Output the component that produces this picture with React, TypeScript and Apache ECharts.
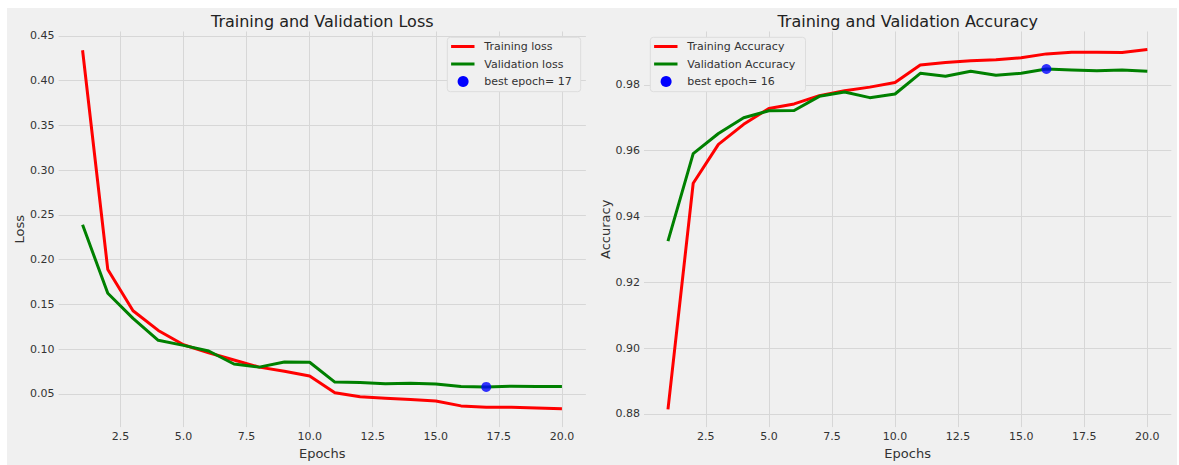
import React, { useEffect, useRef } from "react";
import * as echarts from "echarts";

const epochs = [1, 2, 3, 4, 5, 6, 7, 8, 9, 10, 11, 12, 13, 14, 15, 16, 17, 18, 19, 20];
const trainLoss = [0.434, 0.189, 0.143, 0.121, 0.105, 0.096, 0.088, 0.080, 0.0755, 0.070, 0.0514, 0.047, 0.0451, 0.0437, 0.0422, 0.0367, 0.0352, 0.0352, 0.0343, 0.0334];
const valLoss = [0.239, 0.1625, 0.1345, 0.110, 0.1043, 0.098, 0.0835, 0.080, 0.0858, 0.0855, 0.0633, 0.0628, 0.0615, 0.062, 0.0612, 0.0583, 0.0579, 0.0586, 0.0585, 0.0585];
const trainAcc = [0.8814, 0.9501, 0.9619, 0.968, 0.9728, 0.9742, 0.9767, 0.9782, 0.9793, 0.9807, 0.986, 0.9868, 0.9873, 0.9876, 0.9882, 0.9894, 0.9899, 0.9899, 0.9898, 0.9907];
const valAcc = [0.9325, 0.9591, 0.9652, 0.970, 0.9721, 0.9722, 0.9765, 0.9778, 0.9761, 0.9772, 0.9835, 0.9826, 0.9841, 0.9829, 0.9835, 0.9848, 0.9845, 0.9843, 0.9845, 0.9841];
const bestLossEpoch = 17;
const bestLoss = 0.0579;
const bestAccEpoch = 16;
const bestAcc = 0.9848;
const xTicks = [2.5, 5, 7.5, 10, 12.5, 15, 17.5, 20];
const lossTicks = [0.05, 0.1, 0.15, 0.2, 0.25, 0.3, 0.35, 0.4, 0.45];
const accTicks = [0.88, 0.9, 0.92, 0.94, 0.96, 0.98];
const lossLegend = ["Training loss", "Validation loss", "best epoch= " + bestLossEpoch];
const accLegend = ["Training Accuracy", "Validation Accuracy", "best epoch= " + bestAccEpoch];
const titles = ["Training and Validation Loss", "Training and Validation Accuracy"];

const FONT = "DejaVu Sans";
const GRID_COLOR = "#d7d7d7";
const TEXT_COLOR = "#333333";

export default function App() {
  const ref = useRef<HTMLDivElement>(null);
  useEffect(() => {
    if (!ref.current) return;
    const chart = echarts.init(ref.current, undefined, { renderer: "svg" });

    const G = [
      { left: 51.6, top: 23.5, width: 527.3, height: 399.5 },
      { left: 637, top: 23.5, width: 527.3, height: 399.5 },
    ];

    const xAxisBase = (gi: number) => ({
      type: "value",
      gridIndex: gi,
      min: 0.05,
      max: 20.95,
      name: "Epochs",
      nameLocation: "middle",
      nameGap: 18,
      nameTextStyle: { fontFamily: FONT, fontSize: 13, color: TEXT_COLOR },
      axisLine: { show: false },
      axisTick: { show: false, customValues: xTicks },
      axisLabel: {
        customValues: xTicks,
        margin: 4,
        fontFamily: FONT,
        fontSize: 11,
        color: TEXT_COLOR,
        formatter: (v: number) => v.toFixed(1),
      },
      splitLine: { show: true, lineStyle: { color: GRID_COLOR, width: 1 } },
    });

    const yAxisBase = (gi: number, min: number, max: number, ticks: number[], name: string) => ({
      type: "value",
      gridIndex: gi,
      min,
      max,
      name,
      nameLocation: "middle",
      nameGap: 32,
      nameTextStyle: { fontFamily: FONT, fontSize: 13, color: TEXT_COLOR },
      axisLine: { show: false },
      axisTick: { show: false, customValues: ticks },
      axisLabel: {
        customValues: ticks,
        margin: 4,
        fontFamily: FONT,
        fontSize: 11,
        color: TEXT_COLOR,
        formatter: (v: number) => v.toFixed(2),
      },
      splitLine: { show: true, lineStyle: { color: GRID_COLOR, width: 1 } },
    });

    const lineSeries = (name: string, data: number[], color: string, gi: number) => ({
      type: "line",
      name,
      xAxisIndex: gi,
      yAxisIndex: gi,
      data: epochs.map((e, i) => [e, data[i]]),
      showSymbol: false,
      symbol: "none",
      lineStyle: { color, width: 3, join: "round" },
      z: 3,
    });

    const legendGraphic = (
      boxX: number,
      boxW: number,
      labels: string[]
    ) => {
      const boxY = 29.3;
      const rows = [38.5, 56, 73.5];
      const colors = ["#ff0000", "#008000"];
      const els: any[] = [
        {
          type: "rect",
          z: 100,
          shape: { x: boxX, y: boxY, width: boxW, height: 54.4, r: 3 },
          style: { fill: "#f0f0f0", stroke: "#dddddd", lineWidth: 1 },
        },
      ];
      for (let i = 0; i < 2; i++) {
        els.push({
          type: "line",
          z: 101,
          shape: { x1: boxX + 3.8, y1: rows[i], x2: boxX + 27.2, y2: rows[i] },
          style: { stroke: colors[i], lineWidth: 3 },
        });
      }
      els.push({
        type: "circle",
        z: 101,
        shape: { cx: boxX + 15.8, cy: rows[2], r: 5.5 },
        style: { fill: "#0000ff" },
      });
      labels.forEach((t, i) => {
        els.push({
          type: "text",
          z: 101,
          x: boxX + 37,
          y: rows[i],
          style: {
            text: t,
            fontFamily: FONT,
            fontSize: 11,
            fill: TEXT_COLOR,
            align: "left",
            verticalAlign: "middle",
          },
        });
      });
      return els;
    };

    const titleGraphic = titles.map((t, i) => ({
      type: "text",
      z: 100,
      x: G[i].left + G[i].width / 2,
      y: 13,
      style: {
        text: t,
        fontFamily: FONT,
        fontSize: 16,
        fill: "#222222",
        align: "center",
        verticalAlign: "middle",
      },
    }));

    chart.setOption({
      animation: false,
      backgroundColor: "#f0f0f0",
      grid: G.map((g) => ({ ...g, containLabel: false })),
      xAxis: [xAxisBase(0), xAxisBase(1)],
      yAxis: [
        yAxisBase(0, 0.013, 0.455, lossTicks, "Loss"),
        yAxisBase(1, 0.876, 0.9962, accTicks, "Accuracy"),
      ],
      series: [
        lineSeries("Training loss", trainLoss, "#ff0000", 0),
        lineSeries("Validation loss", valLoss, "#008000", 0),
        {
          type: "scatter",
          name: lossLegend[2],
          xAxisIndex: 0,
          yAxisIndex: 0,
          data: [[bestLossEpoch, bestLoss]],
          symbolSize: 10,
          itemStyle: { color: "#0000ff" },
          z: 4,
        },
        lineSeries("Training Accuracy", trainAcc, "#ff0000", 1),
        lineSeries("Validation Accuracy", valAcc, "#008000", 1),
        {
          type: "scatter",
          name: accLegend[2],
          xAxisIndex: 1,
          yAxisIndex: 1,
          data: [[bestAccEpoch, bestAcc]],
          symbolSize: 10,
          itemStyle: { color: "#0000ff" },
          z: 4,
        },
      ],
      graphic: [
        ...titleGraphic,
        ...legendGraphic(440.3, 133.4, lossLegend),
        ...legendGraphic(643.3, 155.2, accLegend),
      ],
    });

    return () => chart.dispose();
  }, []);

  return (
    <div
      ref={ref}
      style={{ position: "absolute", left: 7, top: 8, width: 1170, height: 457 }}
    />
  );
}
